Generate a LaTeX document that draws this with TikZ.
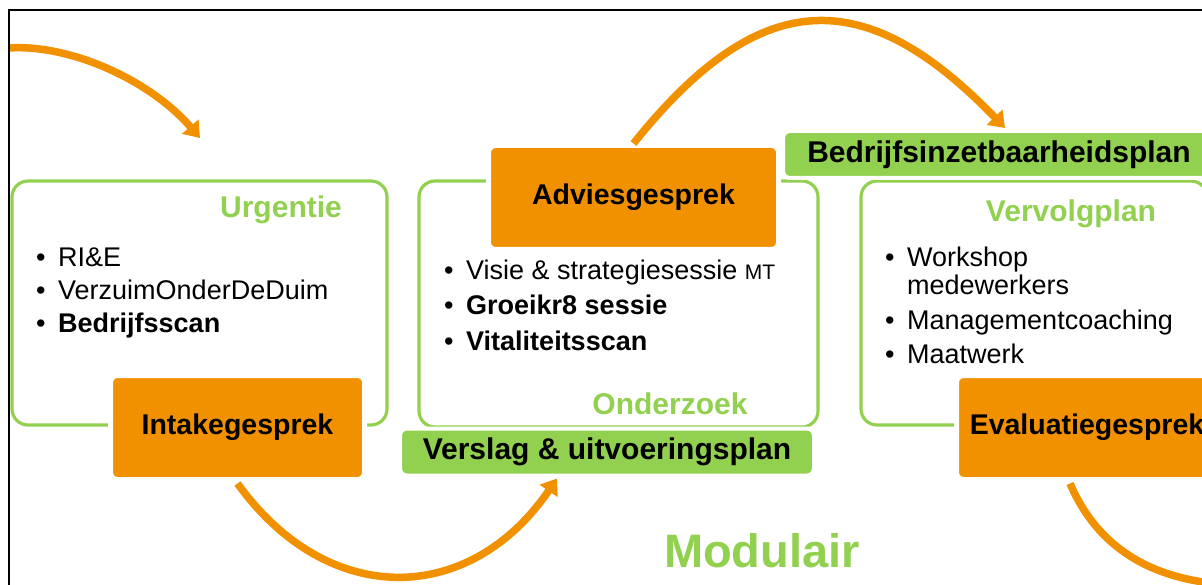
\documentclass[tikz,border=0pt]{standalone}
\usepackage{fontspec}
\setmainfont{Liberation Sans}
\usetikzlibrary{arrows.meta}
\definecolor{oranje}{RGB}{242,145,0}
\definecolor{groen}{RGB}{146,208,80}
\newcommand{\punt}[1]{\makebox[22pt][l]{\textbullet}#1}

\begin{document}
\begin{tikzpicture}[x=1pt, y=-1pt,
      type-kader/.style={rectangle, rounded corners=16pt, draw=groen, line width=3.2pt, inner sep=0pt, outer sep=0pt},
      type-gesprek/.style={rectangle, rounded corners=7pt, fill=oranje, draw=white, line width=5pt, inner sep=0pt, outer sep=0pt, minimum height=104pt, font=\bfseries\fontsize{28.5}{34}\selectfont},
      type-plan/.style={rectangle, rounded corners=7pt, fill=groen, draw=white, line width=4pt, inner sep=0pt, outer sep=0pt, minimum height=47pt, font=\bfseries\fontsize{30}{36}\selectfont},
      type-titel/.style={anchor=base, inner sep=0pt, text=groen, font=\bfseries\fontsize{30}{36}\selectfont},
      type-punt/.style={anchor=base west, inner sep=0pt, font=\fontsize{27}{32}\selectfont},
      type-boog/.style={draw=oranje, line width=7.5pt, -{Triangle[length=15pt,width=21pt]}}
    ]
      \useasboundingbox (0,0) rectangle (1202,585);
      \clip (0,0) rectangle (1202,585);

      % groene kaders
      \node[type-kader, minimum width=375pt, minimum height=244pt] (urgentie-kader) at (199.5,303) {};
      \node[type-kader, minimum width=399pt, minimum height=246pt] (onderzoek-kader) at (618.5,304) {};
      \node[type-kader, minimum width=346pt, minimum height=244pt] (vervolg-kader) at (1034,303) {};

      % gesprekken
      \node[type-gesprek, minimum width=254pt] (intake) at (237.5,427.5) {Intakegesprek};
      \node[type-gesprek, minimum width=290pt] (advies) at (633.5,197.5) {Adviesgesprek};
      \node[type-gesprek, minimum width=261pt] (evaluatie) at (1087,427.5) {Evaluatiegesprek};

      % plannen
      \node[type-plan, minimum width=414pt] (verslag) at (607,452) {Verslag \& uitvoeringsplan};
      \node[type-plan, minimum width=432pt] (plan) at (999,154.5) {Bedrijfsinzetbaarheidsplan};

      % titels
      \node[type-titel] (urgentie) at (281,218) {Urgentie};
      \node[type-titel] (onderzoek) at (670,414) {Onderzoek};
      \node[type-titel] (vervolgplan) at (1071,222) {Vervolgplan};
      \node[type-titel, font=\bfseries\fontsize{47}{56}\selectfont] (modulair) at (762,567) {Modulair};

      % opsommingen
      \node[type-punt] (u1) at (36,267) {\punt{RI\&E}};
      \node[type-punt] (u2) at (36,300) {\punt{VerzuimOnderDeDuim}};
      \node[type-punt] (u3) at (36,333) {\punt{\textbf{Bedrijfsscan}}};
      \node[type-punt] (o1) at (444,280) {\punt{Visie \& strategiesessie {\fontsize{21}{24}\selectfont MT}}};
      \node[type-punt] (o2) at (444,315) {\punt{\textbf{Groeikr8 sessie}}};
      \node[type-punt] (o3) at (444,350) {\punt{\textbf{Vitaliteitsscan}}};
      \node[type-punt] (v1) at (885,267) {\punt{Workshop}};
      \node[type-punt] (v1b) at (907,295) {medewerkers};
      \node[type-punt] (v2) at (885,330) {\punt{Managementcoaching}};
      \node[type-punt] (v3) at (885,363) {\punt{Maatwerk}};

      % bogen
      \coordinate (boog0-start) at (9,48);
      \coordinate (boog0-eind) at (200,138);
      \coordinate (boog3-eind) at (1230,585);
      \draw[type-boog] (boog0-start) .. controls (70,44) and (150,80) .. (boog0-eind);
      \draw[type-boog] ([yshift=-4pt]intake.south) .. controls (328,609) and (470,606) .. ([xshift=157pt,yshift=-3pt]verslag.south west);
      \draw[type-boog] ([yshift=2pt]advies.north) .. controls (761,-16) and (866,-16) .. ([xshift=222pt,yshift=3pt]plan.north west);
      \draw[type-boog] ([xshift=-17pt,yshift=-4pt]evaluatie.south) .. controls (1090,530) and (1130,575) .. (boog3-eind);

      % kader
      \draw[line width=1.3pt] (9,585) -- (9,10) -- (1202,10);
    \end{tikzpicture}
\end{document}
